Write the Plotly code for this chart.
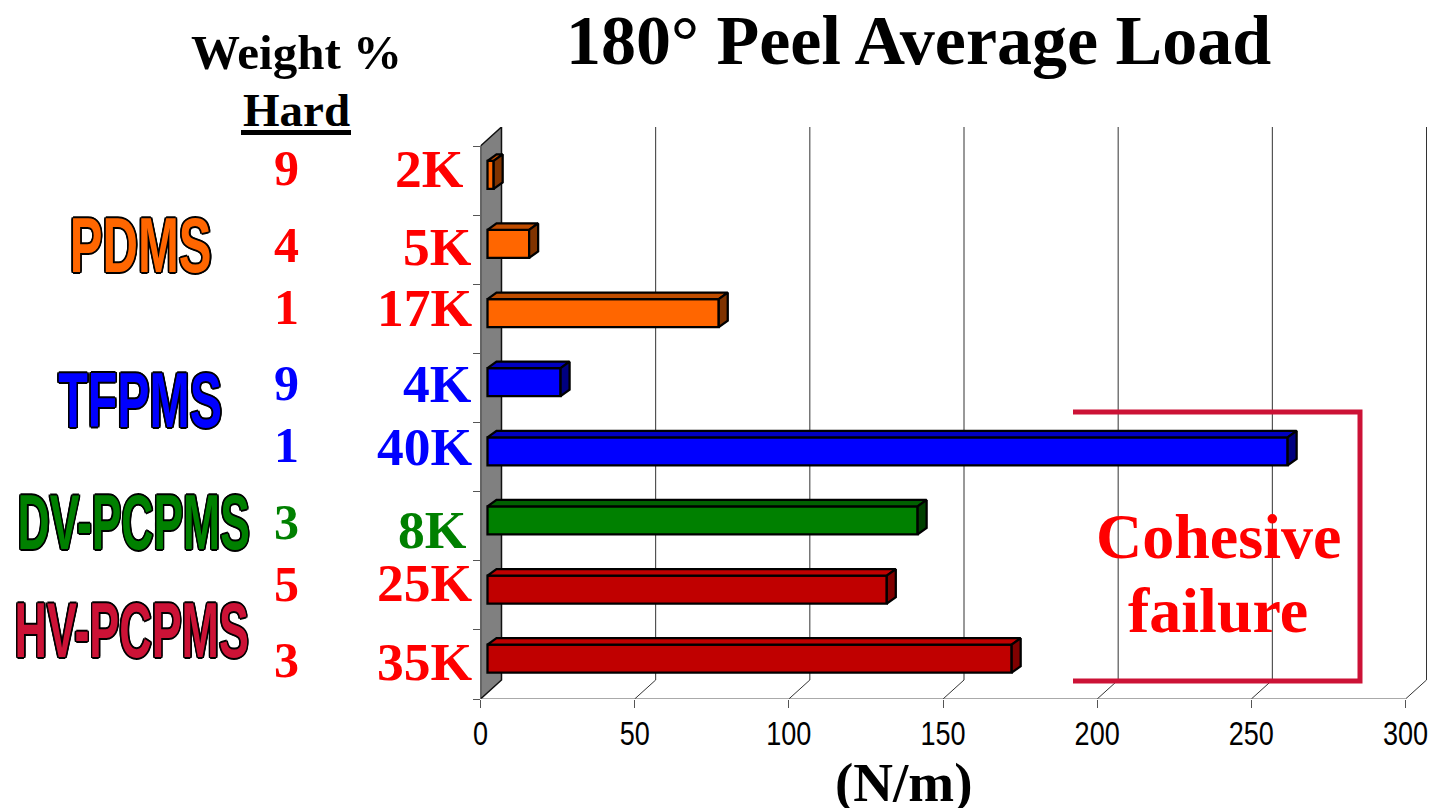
import plotly.graph_objects as go

# ---- data -------------------------------------------------------------
molar_mass = ["2K", "5K", "17K", "4K", "40K", "8K", "25K", "35K"]
weight_hard = ["9", "4", "1", "9", "1", "3", "5", "3"]
peel_load = [2, 13.5, 75, 23.7, 259.5, 139.5, 129.5, 170]
x_ticks = [0, 50, 100, 150, 200, 250, 300]
title_text = "180° Peel Average Load"

# ---- styles / layout ----------------------------------------------------
W, H = 1433, 808
front_colors = ["#FF6600"] * 3 + ["#0000FF"] * 2 + ["#008000"] + ["#C00000"] * 2
top_colors = ["#C04D00"] * 3 + ["#0000C0"] * 2 + ["#006000"] + ["#C00000"] * 2
side_colors = ["#803300"] * 3 + ["#000080"] * 2 + ["#004000"] + ["#800000"] * 2
mass_colors = ["#FF0000"] * 3 + ["#0000FF"] * 2 + ["#008000"] + ["#FF0000"] * 2
wt_colors = ["#FF0000"] * 3 + ["#0000FF"] * 2 + ["#008000"] + ["#FF0000"] * 2
mass_right = [465, 472.5, 474, 472.5, 474, 467.5, 474, 474]
mass_y = [169, 246.5, 308, 384.5, 446.5, 529.5, 583, 661.5]
wt_y = [168, 244.5, 306.5, 383, 444.5, 521.5, 584, 659.5]

X0, X300, XBACK = 480.5, 1405.5, 1426.5
YTOP_BACK, YTOP, YBOT = 127, 146, 699
PAD = 3  # room to the right of the back wall so its last line is not clipped
k = (X300 - X0) / 300
cat = (YBOT - YTOP) / 8
xmax = (XBACK + PAD - X0) / k
ymin = -(YTOP - YTOP_BACK) / cat
wall_dx, wall_dy = (XBACK - X300) / k, (YTOP - YTOP_BACK) / cat
bar_dx, bar_dy = 7 / k, 5.75 / cat
bar_h = 28 / cat
depth_x, depth_y = 9 / k, 6.5 / cat

def px(x):
    return x / W
def py(y):
    return 1 - y / H

fig = go.Figure()
ys = [i + 0.5 - bar_dy for i in range(len(peel_load))]
fig.add_trace(go.Bar(
    x=peel_load, y=ys, base=bar_dx, orientation="h", width=bar_h,
    marker=dict(color=front_colors, line=dict(color="black", width=2.3)),
    hoverinfo="x", showlegend=False,
))
for v, yc, tc, sc in zip(peel_load, ys, top_colors, side_colors):
    x0, x1 = bar_dx, bar_dx + v
    yt, yb = yc - bar_h / 2, yc + bar_h / 2
    fig.add_trace(go.Scatter(
        x=[x0, x0 + depth_x, x1 + depth_x, x1, x0],
        y=[yt, yt - depth_y, yt - depth_y, yt, yt],
        mode="lines", fill="toself", fillcolor=tc, line=dict(color="black", width=2.3),
        hoverinfo="skip", showlegend=False,
    ))
    fig.add_trace(go.Scatter(
        x=[x1, x1 + depth_x, x1 + depth_x, x1, x1],
        y=[yt, yt - depth_y, yb - depth_y, yb, yt],
        mode="lines", fill="toself", fillcolor=sc, line=dict(color="black", width=2.3),
        hoverinfo="skip", showlegend=False,
    ))

shapes = []
shapes.append(dict(type="path", xref="x", yref="y", layer="below",
    path=f"M 0 8 L {wall_dx} {8 - wall_dy} L {wall_dx} {ymin} L 0 0 Z",
    fillcolor="#808080", line=dict(color="#111111", width=1.5)))
for t in x_ticks[1:]:
    shapes.append(dict(type="path", xref="x", yref="y", layer="below",
        path=f"M {t} 8 L {t + wall_dx} {8 - wall_dy} L {t + wall_dx} {ymin}",
        line=dict(color="#333333", width=1)))
shapes.append(dict(type="line", xref="x", yref="y", layer="below", x0=0, x1=300, y0=8, y1=8,
                   line=dict(color="#555555", width=1)))
shapes.append(dict(type="line", xref="x", yref="y", layer="below", x0=0, x1=0, y0=0, y1=8,
                   line=dict(color="#555555", width=1)))
bc = "#CC1236"
shapes.append(dict(type="path", xref="paper", yref="paper",
    path=f"M {px(1073)} {py(412)} L {px(1360)} {py(412)} L {px(1360)} {py(681)} L {px(1073)} {py(681)}",
    line=dict(color=bc, width=5)))
shapes.append(dict(type="line", xref="paper", yref="paper", x0=px(241), x1=px(351), y0=py(132.5), y1=py(132.5),
                   line=dict(color="black", width=5)))

SERIF = "Liberation Serif"
SANS = "Liberation Sans"
anns = []
def note(text, x, y, size, color="black", xanchor="center", family=SERIF, shadow=None):
    f = dict(family=family, size=size, color=color)
    if shadow:
        f["shadow"] = shadow
    anns.append(dict(text=text, x=px(x), y=py(y), xref="paper", yref="paper", xanchor=xanchor,
                     yanchor="middle", showarrow=False, font=f, borderpad=0))

note(f"<b>{title_text}</b>", 918, 40.5, 70)
note("<b>Weight %</b>", 296, 53, 49)
note("<b>Hard</b>", 296, 110, 47)
note("<b>(N/m)</b>", 903, 782, 55)
note("<b>Cohesive</b>", 1218, 536, 64, "#FF0000")
note("<b>failure</b>", 1218, 610, 64, "#FF0000")
for m, w, mc, wc, mr, my, wy in zip(molar_mass, weight_hard, mass_colors, wt_colors, mass_right, mass_y, wt_y):
    note(f"<b>{m}</b>", mr, my, 53.5, mc, xanchor="right")
    note(f"<b>{w}</b>", 286, wy, 50, wc)

OUT = "2px 0 0 #000,-2px 0 0 #000,0 1.5px 0 #000,0 -1.5px 0 #000,2px 1px 0 #000,-2px -1px 0 #000,2px -1px 0 #000,-2px 1px 0 #000"
note("<b>PDMS</b>", 140, 245, 78, "#FF6600", family=SANS, shadow=OUT)
note("<b>TFPMS</b>", 140, 400, 78, "#0000FF", family=SANS, shadow=OUT)
note("<b>DV-PCPMS</b>", 133, 522, 78, "#008000", family=SANS, shadow=OUT)
note("<b>HV-PCPMS</b>", 131.5, 630, 78, "#CC1236", family=SANS, shadow=OUT)

fig.update_layout(
    width=W, height=H, margin=dict(l=0, r=0, t=0, b=0), autosize=False,
    paper_bgcolor="white", plot_bgcolor="rgba(0,0,0,0)", showlegend=False, barmode="overlay",
    shapes=shapes, annotations=anns,
    xaxis=dict(domain=[X0 / W, (XBACK + PAD) / W], range=[0, xmax], tickvals=x_ticks, ticks="outside",
               ticklen=8, tickcolor="#555555", showgrid=False, zeroline=False, showline=False,
               tickfont=dict(family=SANS, size=33, color="black"), tickangle=0, automargin=False,
               ticklabeloverflow="allow"),
    yaxis=dict(domain=[1 - YBOT / H, 1 - YTOP_BACK / H], range=[8, ymin], tickvals=list(range(9)),
               ticks="outside", ticklen=7, tickcolor="#555555", showticklabels=False,
               showgrid=False, zeroline=False, showline=False, automargin=False),
)

# Narrow faces are not installed: squeeze the real text elements horizontally.
post = """
document.documentElement.style.overflow='hidden';
document.body.style.margin='0';
document.body.style.overflow='hidden';
(function(){
  var gd=document.getElementById('{plot_id}');
  var wa={'PDMS':0.63,'TFPMS':0.62,'DV-PCPMS':0.57,'HV-PCPMS':0.575};
  function squeeze(el,s,dy){
    if(!el.hasAttribute('data-t0')) el.setAttribute('data-t0',el.getAttribute('transform')||'');
    var b=el.getBBox(),cx=b.x+b.width/2;
    el.setAttribute('transform',el.getAttribute('data-t0')+' translate('+cx+','+dy+') scale('+s+',1) translate('+(-cx)+',0)');
  }
  function run(){
    gd.querySelectorAll('.annotation-text').forEach(function(t){
      var s=wa[t.textContent.trim()]; if(s) squeeze(t,s,0);
    });
    gd.querySelectorAll('.xtick text').forEach(function(t){squeeze(t,0.82,-3);});
  }
  run();
  if(gd.on) gd.on('plotly_afterplot',run);
  setTimeout(run,50);
})();
"""
fig.write_html("out.html", post_script=post, config=dict(displayModeBar=False))
